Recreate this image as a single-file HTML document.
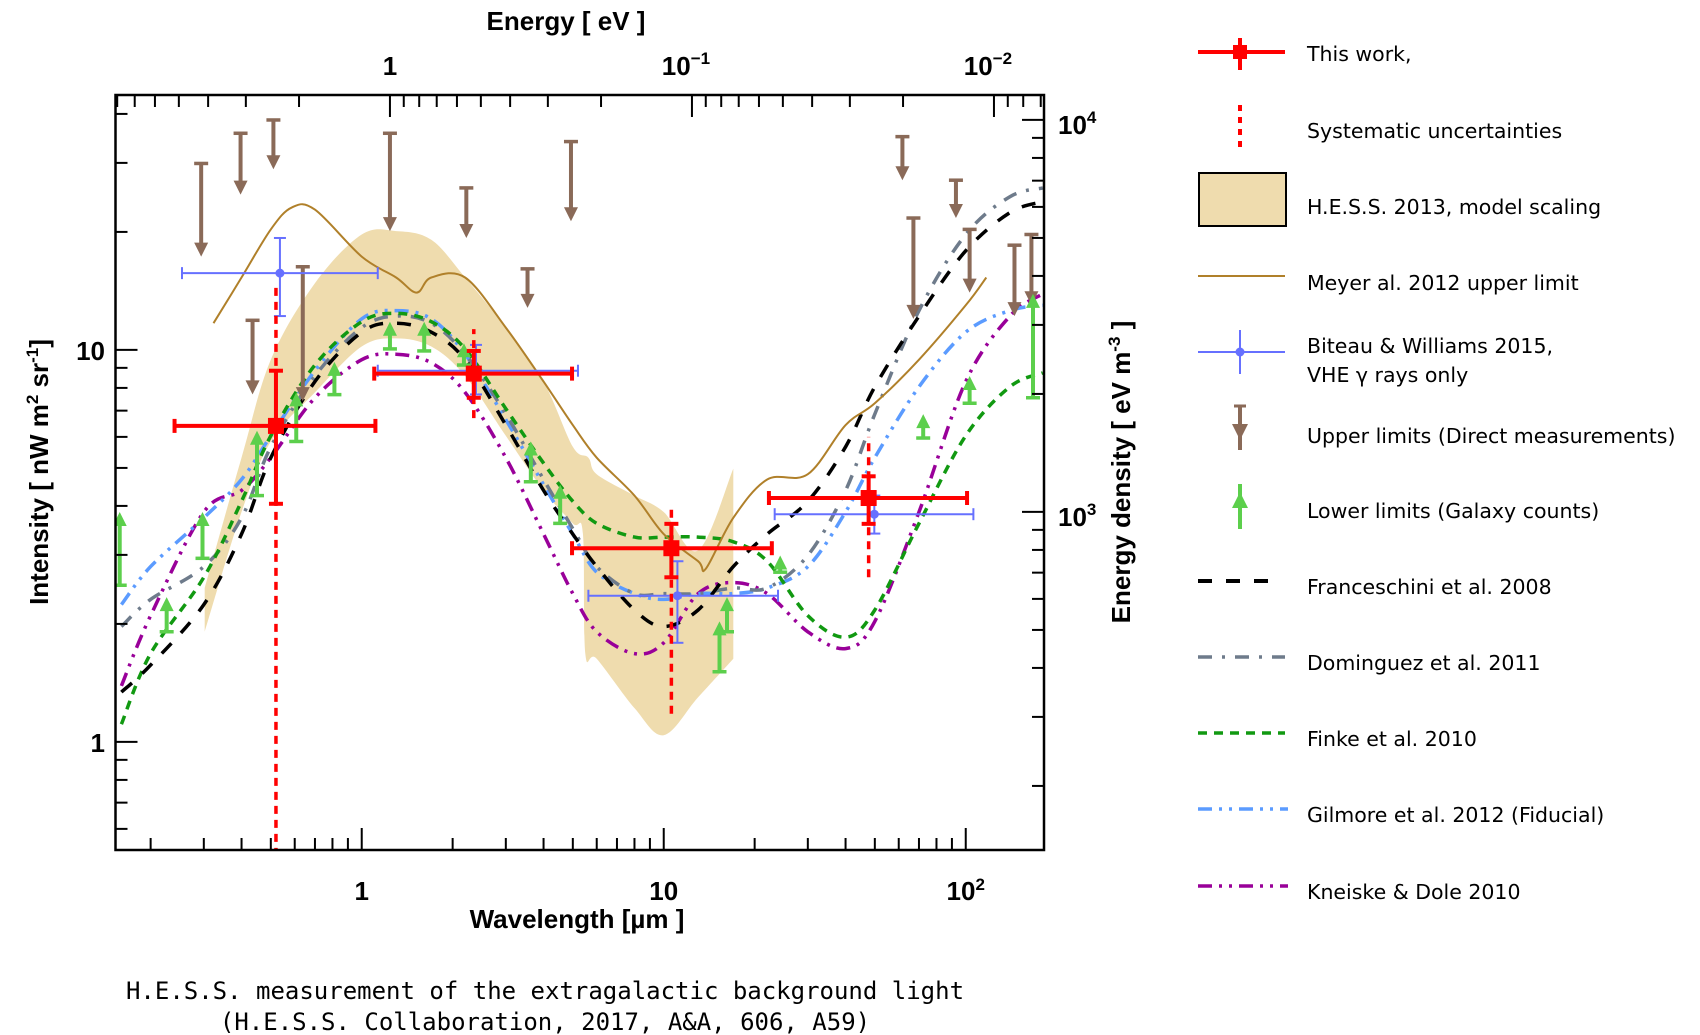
<!DOCTYPE html>
<html><head><meta charset="utf-8"><style>
html,body{margin:0;padding:0;background:#fff;}
svg{display:block;font-family:"Liberation Sans",Arial,sans-serif;}
.tl{font-weight:bold;font-size:26px;}
.lg{font-family:"DejaVu Sans",sans-serif;font-size:20.5px;}
.cap{font-family:"DejaVu Sans Mono","Liberation Mono",monospace;font-size:24px;}
</style></head><body>
<svg id="chart" width="1700" height="1035" viewBox="0 0 1700 1035" xmlns="http://www.w3.org/2000/svg">
<g id="plot"></g>
<rect x="115.5" y="95" width="928.5" height="755" fill="none" stroke="#000" stroke-width="2.5"/>
<g id="axes"></g>
<text x="566" y="30" text-anchor="middle" class="tl">Energy [ eV ]</text>
<text x="577" y="928" text-anchor="middle" class="tl">Wavelength  [µm ]</text>
<text transform="translate(48,472) rotate(-90)" text-anchor="middle" class="tl">Intensity  [ nW m<tspan font-size="17" dy="-10">2</tspan><tspan dy="10"> sr</tspan><tspan font-size="17" dy="-10">-1</tspan><tspan dy="10">]</tspan></text>
<text transform="translate(1130,472) rotate(-90)" text-anchor="middle" class="tl">Energy density  [ eV m<tspan font-size="17" dy="-10">-3</tspan><tspan dy="10"> ]</tspan></text>
<g>
 <g>
  <line x1="1198" y1="52" x2="1285" y2="52" stroke="#f00" stroke-width="4"/>
  <line x1="1240" y1="38" x2="1240" y2="70" stroke="#f00" stroke-width="4"/>
  <rect x="1233" y="45" width="14" height="14" fill="#f00"/>
  <text x="1307" y="61" class="lg">This work,</text></g>
 <g>
  <line x1="1240" y1="105" x2="1240" y2="147" stroke="#f00" stroke-width="4" stroke-dasharray="6,6"/>
  <text x="1307" y="138" class="lg">Systematic uncertainties</text></g>
 <g>
  <rect x="1199" y="173" width="87" height="53" fill="#efdcae" stroke="#000" stroke-width="2"/>
  <text x="1307" y="214" class="lg">H.E.S.S. 2013, model scaling</text></g>
 <g>
  <line x1="1198" y1="276" x2="1285" y2="276" stroke="#b0802a" stroke-width="2"/>
  <text x="1307" y="290" class="lg">Meyer al. 2012 upper limit</text></g>
 <g>
  <line x1="1198" y1="352" x2="1285" y2="352" stroke="#6670ff" stroke-width="2"/>
  <line x1="1240" y1="330" x2="1240" y2="374" stroke="#6670ff" stroke-width="2"/>
  <circle cx="1240" cy="352" r="4.5" fill="#6670ff"/>
  <text x="1307" y="353" class="lg">Biteau &amp; Williams 2015,</text>
  <text x="1307" y="382" class="lg">VHE γ rays only</text></g>
 <g>
  <line x1="1240" y1="406" x2="1240" y2="450" stroke="#8a6a58" stroke-width="4"/>
  <polygon points="1232,424 1248,424 1240,440" fill="#8a6a58"/>
  <line x1="1234" y1="406" x2="1246" y2="406" stroke="#8a6a58" stroke-width="3"/>
  <text x="1307" y="443" class="lg">Upper limits (Direct measurements)</text></g>
 <g>
  <line x1="1240" y1="484" x2="1240" y2="529" stroke="#5ccf4c" stroke-width="4"/>
  <polygon points="1232,508 1248,508 1240,492" fill="#5ccf4c"/>
  <text x="1307" y="518" class="lg">Lower limits (Galaxy counts)</text></g>
 <g>
  <line x1="1198" y1="581" x2="1280" y2="581" stroke="#000" stroke-width="4" stroke-dasharray="14,14"/>
  <text x="1307" y="594" class="lg">Franceschini et al. 2008</text></g>
 <g>
  <line x1="1198" y1="657" x2="1285" y2="657" stroke="#6e7b8b" stroke-width="3.5" stroke-dasharray="14,10,3,10"/>
  <text x="1307" y="670" class="lg">Dominguez et al. 2011</text></g>
 <g>
  <line x1="1198" y1="733" x2="1285" y2="733" stroke="#119911" stroke-width="3.5" stroke-dasharray="9,7"/>
  <text x="1307" y="746" class="lg">Finke et al. 2010</text></g>
 <g>
  <line x1="1198" y1="809" x2="1288" y2="809" stroke="#5b9bff" stroke-width="3.5" stroke-dasharray="14,7,3,7,3,7"/>
  <text x="1307" y="822" class="lg">Gilmore et al. 2012 (Fiducial)</text></g>
 <g>
  <line x1="1198" y1="886" x2="1288" y2="886" stroke="#990099" stroke-width="3.5" stroke-dasharray="14,7,3,7,3,7"/>
  <text x="1307" y="899" class="lg">Kneiske &amp; Dole 2010</text></g>
</g>
<text x="545" y="999" text-anchor="middle" class="cap">H.E.S.S. measurement of the extragalactic background light</text>
<text x="545" y="1030" text-anchor="middle" class="cap">(H.E.S.S. Collaboration, 2017, A&amp;A, 606, A59)</text>
</svg>
<script>
// ---- data ----
const grid = [0.16,0.2,0.3,0.4,0.5,0.7,1,1.3,1.7,2.2,3,4,5,6,8,10,13,17,22,30,40,50,70,100,140,180];
const franceschini = [1.34,1.57,2.24,3.39,5.31,8.3,11.1,11.7,11.1,9.44,6.43,4.38,3.39,2.8,2.17,1.97,2.17,2.8,3.39,4.11,5.66,8.05,12.2,17.9,22.4,23.9];
const dominguez = [1.97,2.31,2.8,3.73,5.66,8.58,11.4,12.2,11.7,9.75,6.86,4.67,3.5,2.8,2.39,2.39,2.39,2.47,2.47,2.99,4.38,6.86,12.6,19.7,24.6,25.9];
const finke = [1.11,1.68,2.63,4.11,6.04,9.15,11.8,12.4,11.8,10.06,7.08,5.14,4.11,3.61,3.33,3.33,3.33,3.24,2.89,2.1,1.85,2.17,3.61,6.04,8.05,8.74];
const gilmore = [2.24,2.8,3.73,4.67,6.04,8.85,12.0,12.6,12.0,9.75,6.64,4.53,3.39,2.71,2.39,2.31,2.39,2.39,2.47,2.8,3.86,5.31,8.05,11.1,12.6,13.0];
const kneiske = [1.39,2.1,3.86,4.38,5.31,7.55,9.44,9.75,9.27,7.79,5.31,3.39,2.39,1.91,1.68,1.79,2.39,2.55,2.39,1.91,1.73,2.03,3.86,8.3,12.2,13.9];
const meyerLam = [0.323,0.4,0.5,0.587,0.7,1,1.3,1.52,1.7,2.2,3,4,5,6,8,10,13,13.8,17,22,30,40,50,70,100,117];
const meyerI = [11.7,15.3,20.3,23.1,22.8,17.3,15.3,14.0,15.3,15.3,11.4,8.3,6.43,5.31,4.25,3.39,2.89,2.77,3.73,4.67,4.82,6.43,7.31,9.44,13.0,15.3];
const bandUpLam = [0.302,0.4,0.5,0.7,1,1.3,1.7,2.2,3,4,5,5.63,6,8,10,13,17];
const bandUpI = [2.47,5.31,9.44,14.8,19.7,20.1,19.1,15.3,11.4,8.3,5.66,5.31,4.82,4.25,3.86,3.08,4.98];
const bandLoLam = [0.302,0.4,0.5,0.7,1,1.3,1.7,2.2,3,4,5,5.4,5.5,6,8,10,13,17];
const bandLoI = [1.91,3.86,5.84,7.79,10.2,10.7,10.2,8.58,6.04,4.38,3.61,3.4,1.68,1.63,1.22,1.04,1.3,1.63];
const workLam = [0.52,2.35,10.6,47.7];
const workI = [6.4,8.7,3.12,4.19];
const workLamLo = [0.24,1.1,4.97,22.3];
const workLamHi = [1.11,4.97,22.8,101];
const workILo = [4.05,7.55,2.63,3.6];
const workIHi = [8.85,9.94,3.6,4.76];
const workSysLo = [0.4,6.7,1.18,2.63];
const workSysHi = [14.4,11.3,4.03,6.0];
const bwLam = [0.536,2.39,11.1,49.8];
const bwI = [15.7,8.85,2.36,3.81];
const bwLamLo = [0.254,1.13,5.63,23.3];
const bwLamHi = [1.13,5.2,23.9,106];
const bwILo = [12.2,7.7,1.79,3.4];
const bwIHi = [19.3,10.3,2.89,4.25];
const ulLam = [0.294,0.397,0.51,0.435,0.638,1.24,2.22,3.54,4.93,61.7,67.1,92.8,103,145,165];
const ulTop = [29.9,35.7,38.6,11.9,16.3,35.7,25.9,16.1,34,35,21.7,27.1,20.3,18.5,19.7];
const ulTip = [17.3,24.9,28.9,7.7,7.4,20.1,19.3,12.8,21.3,27.1,12.0,21.7,14.0,12.2,13.0];
const llLam = [0.158,0.226,0.297,0.45,0.607,0.812,1.24,1.61,2.18,3.63,4.54,15.3,16.2,24.3,72.3,103,167];
const llBot = [2.51,1.91,2.94,4.25,5.84,7.69,10.06,9.94,9.15,4.61,3.61,1.51,1.91,2.71,5.96,7.31,7.55];
const llTip = [3.86,2.34,3.86,6.22,7.79,9.32,11.8,11.8,10.4,5.84,4.53,2.03,2.34,2.99,6.86,8.58,13.9];
const xMajor = [1,10,100];
const xMajorLabels = ["1","10","10"];
const yMajor = [1,10];
const yMajorLabels = ["1","10"];
const eMajor = [1,0.1,0.01];
const eMajorLabels = ["1","10","10"];
const eMajorExp = ["","−1","−2"];
const edMajor = [1000,10000];
const edExp = ["3","4"];
const edFactor = 259;

// ---- scales ----
const L=115.5,R=1044,T=95,B=850;
const lx0=Math.log10(0.153), lx1=Math.log10(181.6);
const ly0=Math.log10(0.53), ly1=Math.log10(44.7);
function X(l){return L+(Math.log10(l)-lx0)/(lx1-lx0)*(R-L);}
function Y(v){return B-(Math.log10(v)-ly0)/(ly1-ly0)*(B-T);}
const NS="http://www.w3.org/2000/svg";
const plot=document.getElementById('plot'), axes=document.getElementById('axes');
function mk(tag,attrs,parent){const e=document.createElementNS(NS,tag);for(const k in attrs)e.setAttribute(k,attrs[k]);parent.appendChild(e);return e;}
const defs=mk('defs',{},plot);
const cp=mk('clipPath',{id:'clip'},defs);mk('rect',{x:L,y:T,width:R-L,height:B-T},cp);
const g=mk('g',{'clip-path':'url(#clip)'},plot);

function pts(xs,ys){return xs.map((l,i)=>[X(l),Y(ys[i])]);}
function smoothP(p,move){let s=(move?'M':'L')+p[0][0].toFixed(1)+','+p[0][1].toFixed(1);
 for(let i=0;i<p.length-1;i++){const p0=p[Math.max(0,i-1)],p1=p[i],p2=p[i+1],p3=p[Math.min(p.length-1,i+2)];
 s+='C'+(p1[0]+(p2[0]-p0[0])/6).toFixed(1)+','+(p1[1]+(p2[1]-p0[1])/6).toFixed(1)+' '+(p2[0]-(p3[0]-p1[0])/6).toFixed(1)+','+(p2[1]-(p3[1]-p1[1])/6).toFixed(1)+' '+p2[0].toFixed(1)+','+p2[1].toFixed(1);}
 return s;}
function smooth(xs,ys){return smoothP(pts(xs,ys),true);}

// band
const up=pts(bandUpLam,bandUpI), lo=pts(bandLoLam,bandLoI).reverse();
const band=mk('path',{d:smoothP(up,true)+smoothP(lo,false)+'Z',fill:'#efdcae'},g);



function curve(ys,color,dash,name){const e=mk('path',{d:smooth(grid,ys),fill:'none',stroke:color,'stroke-width':3.5,'stroke-dasharray':dash},g);
 
 }
curve(kneiske,'#990099','14,7,3,7,3,7','kneiske-curve');
curve(gilmore,'#5b9bff','14,7,3,7,3,7','gilmore-curve');
curve(dominguez,'#6e7b8b','14,10,3,10','dominguez-curve');
curve(finke,'#119911','9,7','finke-curve');
curve(franceschini,'#000','14,14','franceschini-curve');
const mey=mk('path',{d:smooth(meyerLam,meyerI),fill:'none',stroke:'#b0802a','stroke-width':2},g);



ulLam.forEach((l,i)=>{const x=X(l),yt=Y(ulTop[i]),yp=Y(ulTip[i]);const gg=mk('g',{},g);
 
 
 mk('line',{x1:x,y1:yt,x2:x,y2:yp-10,stroke:'#8a6a58','stroke-width':4},gg);
 mk('line',{x1:x-7,y1:yt,x2:x+7,y2:yt,stroke:'#8a6a58','stroke-width':3.5},gg);
 mk('polygon',{points:(x-7)+','+(yp-14)+' '+(x+7)+','+(yp-14)+' '+x+','+yp,fill:'#8a6a58'},gg);});
llLam.forEach((l,i)=>{const x=X(l),yb=Y(llBot[i]),yp=Y(llTip[i]);const gg=mk('g',{},g);
 
 
 mk('line',{x1:x,y1:yb,x2:x,y2:yp+10,stroke:'#5ccf4c','stroke-width':4},gg);
 mk('line',{x1:x-7,y1:yb,x2:x+7,y2:yb,stroke:'#5ccf4c','stroke-width':3.5},gg);
 mk('polygon',{points:(x-7)+','+(yp+14)+' '+(x+7)+','+(yp+14)+' '+x+','+yp,fill:'#5ccf4c'},gg);});

bwLam.forEach((l,i)=>{const x=X(l),y=Y(bwI[i]);const gg=mk('g',{},g);const c='#6670ff';
 
 
 const x0=X(bwLamLo[i]),x1=X(bwLamHi[i]),y0=Y(bwILo[i]),y1=Y(bwIHi[i]);
 mk('line',{x1:x0,y1:y,x2:x1,y2:y,stroke:c,'stroke-width':2},gg);
 mk('line',{x1:x,y1:y0,x2:x,y2:y1,stroke:c,'stroke-width':2},gg);
 [[x0,y,0],[x1,y,0],[x,y0,1],[x,y1,1]].forEach(q=>{if(q[2])mk('line',{x1:q[0]-6,y1:q[1],x2:q[0]+6,y2:q[1],stroke:c,'stroke-width':2},gg);else mk('line',{x1:q[0],y1:q[1]-6,x2:q[0],y2:q[1]+6,stroke:c,'stroke-width':2},gg);});
 mk('circle',{cx:x,cy:y,r:4.5,fill:c},gg);});

workLam.forEach((l,i)=>{const x=X(l),y=Y(workI[i]);const gg=mk('g',{},g);const c='#f00';
 
 
 mk('line',{x1:x,y1:Y(workSysLo[i]),x2:x,y2:Y(workSysHi[i]),stroke:c,'stroke-width':3.5,'stroke-dasharray':'8,6'},gg);
 const x0=X(workLamLo[i]),x1=X(workLamHi[i]),y0=Y(workILo[i]),y1=Y(workIHi[i]);
 mk('line',{x1:x0,y1:y,x2:x1,y2:y,stroke:c,'stroke-width':4},gg);
 mk('line',{x1:x,y1:y0,x2:x,y2:y1,stroke:c,'stroke-width':4},gg);
 mk('line',{x1:x0,y1:y-7,x2:x0,y2:y+7,stroke:c,'stroke-width':4},gg);
 mk('line',{x1:x1,y1:y-7,x2:x1,y2:y+7,stroke:c,'stroke-width':4},gg);
 mk('line',{x1:x-7,y1:y0,x2:x+7,y2:y0,stroke:c,'stroke-width':4},gg);
 mk('line',{x1:x-7,y1:y1,x2:x+7,y2:y1,stroke:c,'stroke-width':4},gg);
 mk('rect',{x:x-8,y:y-8,width:16,height:16,fill:c},gg);});

// ---- axes ticks ----
function tick(x1,y1,x2,y2){mk('line',{x1,y1,x2,y2,stroke:'#000','stroke-width':2},axes);}
function txt(x,y,s,anchor,name){const t=mk('text',{x,y,'text-anchor':anchor,class:'tl'},axes);t.textContent=s;
 
 return t;}
for(let e=-1;e<=2;e++)for(let m=1;m<10;m++){const v=m*Math.pow(10,e);if(v<0.153||v>181.6)continue;const x=X(v);const len=m==1?22:12;tick(x,B,x,B-len);}
xMajor.forEach((v,i)=>{const t=txt(X(v),900,xMajorLabels[i],'middle','x-tick-label');if(i==2){const s=mk('tspan',{'font-size':17,dy:-10},t);s.textContent='2';}});
for(let e=-1;e<=1;e++)for(let m=1;m<10;m++){const v=m*Math.pow(10,e);if(v<0.53||v>44.7)continue;const y=Y(v);const len=m==1?22:12;tick(L,y,L+len,y);}
yMajor.forEach((v,i)=>txt(105,Y(v)+10,yMajorLabels[i],'end','y-tick-label'));
for(let e=-3;e<=0;e++)for(let m=1;m<10;m++){const E=m*Math.pow(10,e);const l=1.24/E;if(l<0.153||l>181.6)continue;const x=X(l);const len=m==1?22:12;tick(x,T,x,T+len);}
eMajor.forEach((E,i)=>{const x=X(1.24/E);const t=txt(x-(i?6:0),75,eMajorLabels[i],'middle','top-tick-label');if(eMajorExp[i]){const s=mk('tspan',{'font-size':17,dy:-11},t);s.textContent=eMajorExp[i];}});
for(let e=2;e<=4;e++)for(let m=1;m<10;m++){const v=m*Math.pow(10,e);const I=v/edFactor;if(I<0.53||I>44.7)continue;const y=Y(I);const len=m==1?22:12;tick(R,y,R-len,y);}
edMajor.forEach((v,i)=>{const t=txt(1058,Y(v/edFactor)+14,'10','start','right-tick-label');const s=mk('tspan',{'font-size':17,dy:-11},t);s.textContent=edExp[i];});
</script>
</body></html>
